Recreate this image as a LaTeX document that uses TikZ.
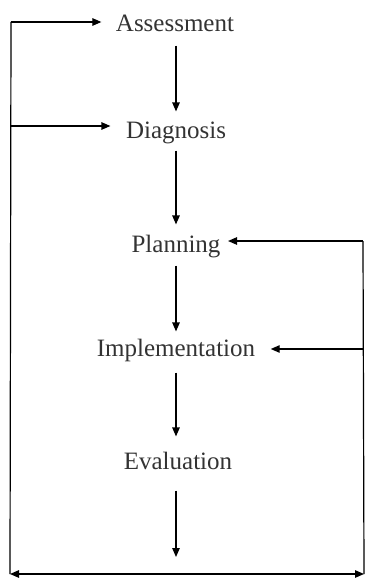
\documentclass[tikz,border=0pt]{standalone}
\usepackage{fontspec}
\setmainfont{Liberation Serif}
\usetikzlibrary{arrows.meta}
\begin{document}
\begin{tikzpicture}[x=1pt,y=-1pt,
  line width=1.2pt,
  stage/.style={inner sep=0pt,anchor=base,text height=17pt,text depth=5pt,
    font=\fontsize{25}{29}\selectfont,text=black!80},
  arr/.style={-{Triangle[length=9pt,width=7.5pt]}},
  flow/.style={arr,shorten <=8pt,shorten >=9pt}]
\useasboundingbox (0,0) rectangle (367,578);

% process stages
\node[stage] (as) at (175,32)  {Assessment};
\node[stage] (di) at (176,138) {Diagnosis};
\node[stage] (pl) at (176,252) {Planning};
\node[stage] (im) at (176,356) {Implementation};
\node[stage] (ev) at (178,469) {Evaluation};

% feedback frame corners
\coordinate (tl) at (11,22);
\coordinate (ml) at (11,126);
\coordinate (bl) at (10,574);
\coordinate (br) at (364,574);
\coordinate (tr) at (363,241);
\coordinate (mr) at (363,349);
\coordinate (end) at (176,557);

% main sequence
\draw[flow] (as.south -| 176,0) -- (di.north -| 176,0);
\draw[flow,shorten <=7pt,shorten >=10pt] (di.south -| 176,0) -- (pl.north -| 176,0);
\draw[flow,shorten >=7pt] (pl.south) -- (im.north);
\draw[flow,shorten <=11pt,shorten >=15pt] (im.south) -- (im.south |- ev.north);
\draw[arr,shorten <=16pt] (ev.south -| end) -- (end);

% feedback loops
\draw (tl) -- (bl);
\draw (tr) -- (br);
\draw[arr,shorten >=14pt] (tl) -- (tl -| as.west);
\draw[arr,shorten >=15pt] (ml) -- (ml -| di.west);
\draw[arr,shorten >=7pt] (tr) -- (tr -| pl.east);
\draw[arr,shorten >=15pt] (mr) -- (mr -| im.east);
\draw[{Triangle[length=9pt,width=7.5pt]}-{Triangle[length=9pt,width=7.5pt]}] (bl) -- (br);
\end{tikzpicture}
\end{document}
